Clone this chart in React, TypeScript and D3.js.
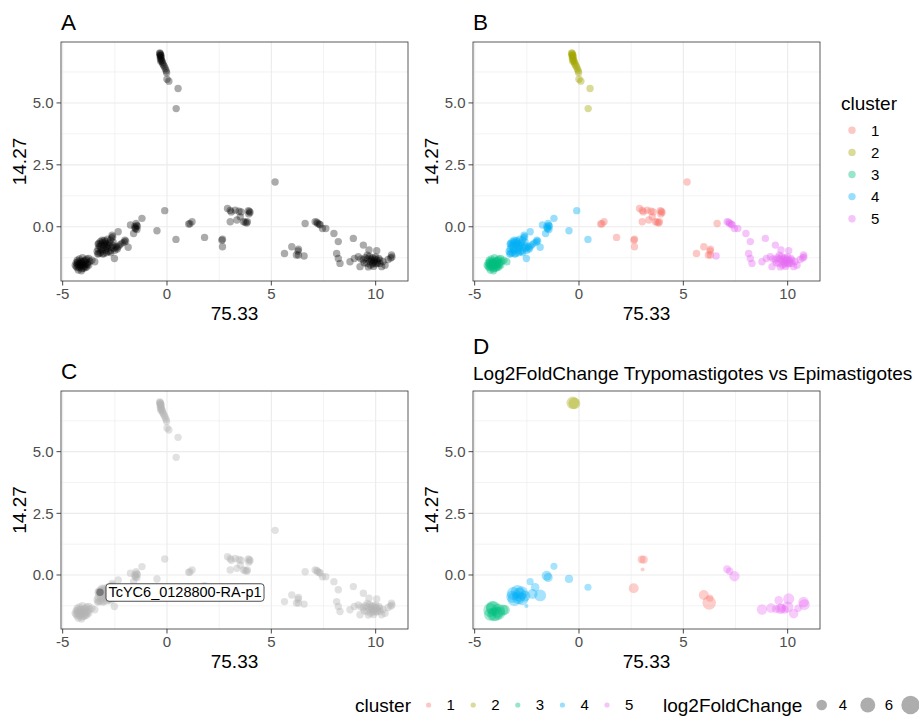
import React from 'react';
import * as d3 from 'd3';

// UMAP-like coordinates, one array per cluster: [x, y]
const cluster1: number[][] = [
  [5.18, 1.81], [2.9, 0.74], [3.03, 0.66], [3.08, 0.6], [3.27, 0.67], [3.45, 0.63], [3.56, 0.6],
  [3.9, 0.65], [3.98, 0.58], [3.92, 0.52], [3.95, 0.62], [3.03, 0.2], [3.35, 0.27], [3.51, 0.4],
  [3.67, 0.2], [3.82, 0.15], [3.75, 0.18], [3.85, 0.2], [1.04, 0.11], [1.1, 0.12], [1.2, 0.2],
  [1.8, -0.43], [2.63, -0.54], [2.66, -0.5], [2.66, -0.81], [6.62, 0.13], [5.98, -0.81],
  [5.63, -1.08], [6.3, -0.91], [6.28, -0.98], [6.3, -1.14], [6.2, -1.14],
];
const cluster2: number[][] = [
  [-0.35, 7.02], [-0.33, 6.97], [-0.31, 6.93], [-0.34, 6.9], [-0.3, 6.86], [-0.28, 6.82],
  [-0.32, 6.78], [-0.27, 6.74], [-0.25, 6.7], [-0.3, 6.68], [-0.22, 6.64], [-0.2, 6.58],
  [-0.17, 6.52], [-0.12, 6.46], [-0.08, 6.38], [-0.04, 6.3], [-0.02, 6.22], [0.0, 5.96],
  [0.09, 5.88], [0.53, 5.58], [0.44, 4.77], [-0.33, 7.0], [-0.29, 6.92],
];
const cluster3: number[][] = [
  [-4.4, -1.55], [-4.35, -1.45], [-4.3, -1.65], [-4.3, -1.35], [-4.25, -1.75], [-4.2, -1.5],
  [-4.2, -1.3], [-4.15, -1.6], [-4.1, -1.42], [-4.1, -1.78], [-4.05, -1.25], [-4.0, -1.55],
  [-4.0, -1.68], [-3.95, -1.38], [-3.9, -1.5], [-3.85, -1.62], [-3.85, -1.3], [-3.8, -1.45],
  [-3.75, -1.55], [-3.7, -1.4], [-4.25, -1.55], [-4.15, -1.48], [-4.05, -1.5], [-3.95, -1.6],
  [-4.35, -1.6], [-3.75, -1.28], [-3.46, -1.41], [-3.6, -1.35], [-4.3, -1.5], [-4.2, -1.65],
  [-4.1, -1.55], [-4.0, -1.4], [-3.9, -1.35], [-4.15, -1.38], [-4.28, -1.42], [-3.92, -1.65],
  [-4.08, -1.7], [-3.82, -1.52],
];
const cluster4: number[][] = [
  [-0.11, 0.65], [-0.48, -0.16], [0.43, -0.51], [-1.2, 0.34], [-1.75, 0.07], [-1.48, 0.13],
  [-1.44, -0.11], [-1.6, -0.27], [-1.55, 0.0], [-1.5, -0.05], [-1.42, 0.02], [-1.52, -0.08],
  [-1.46, 0.05], [-2.34, -0.2], [-2.63, -0.34], [-2.6, -0.4], [-2.02, -0.54], [-2.05, -0.62],
  [-1.98, -0.58], [-1.86, -0.83], [-2.52, -1.28], [-2.25, -0.72], [-2.15, -0.66], [-2.4, -0.85],
  [-3.3, -0.7], [-3.27, -0.67], [-3.2, -0.6], [-3.11, -0.54], [-3.0, -0.55], [-2.95, -0.6],
  [-2.85, -0.5], [-2.79, -0.74], [-2.71, -0.54], [-2.65, -0.45], [-3.27, -1.08], [-3.35, -1.0],
  [-3.3, -0.9], [-3.19, -0.81], [-3.11, -0.97], [-3.05, -0.85], [-3.03, -1.08], [-2.95, -0.95],
  [-2.87, -0.87], [-2.8, -1.0], [-2.71, -0.97], [-2.65, -0.85], [-2.55, -0.87], [-2.5, -0.95],
  [-2.45, -0.8], [-2.31, -0.78], [-3.15, -0.7], [-3.0, -0.75], [-2.9, -0.7], [-3.2, -1.05],
  [-2.9, -1.05], [-3.1, -0.62], [-3.25, -0.78], [-3.15, -0.92], [-2.98, -0.66], [-2.85, -0.78],
  [-2.75, -0.65], [-2.6, -0.75], [-2.38, -0.9], [-3.32, -1.1], [-3.08, -1.1], [-2.92, -0.82],
  [-2.7, -1.05], [-2.58, -0.62],
];
const cluster5: number[][] = [
  [7.1, 0.2], [7.18, 0.18], [7.22, 0.13], [7.3, 0.1], [7.34, 0.08], [7.45, -0.07], [7.61, -0.07],
  [8.0, -0.27], [8.21, -0.6], [8.93, -0.47], [9.41, -0.74], [9.68, -0.94], [10.05, -0.97],
  [6.57, -1.18], [8.13, -1.08], [8.21, -1.28], [8.29, -1.48], [8.77, -1.41], [8.98, -1.28],
  [9.17, -1.21], [9.25, -1.61], [9.41, -1.34], [9.5, -1.25], [9.57, -1.48], [9.62, -1.3],
  [9.7, -1.2], [9.73, -1.4], [9.8, -1.35], [9.85, -1.25], [9.89, -1.45], [9.95, -1.3],
  [10.0, -1.5], [10.05, -1.34], [10.1, -1.42], [10.15, -1.28], [10.21, -1.48], [10.29, -1.61],
  [10.35, -1.4], [10.45, -1.55], [10.6, -1.32], [10.76, -1.14], [10.78, -1.22], [10.72, -1.26],
  [9.6, -1.15], [9.75, -1.55], [9.9, -1.6], [10.2, -1.35], [9.45, -1.45], [9.3, -1.3],
  [9.65, -1.62], [9.78, -1.3], [9.92, -1.38], [10.08, -1.48], [9.85, -1.5], [10.0, -1.22],
];

// genes with a log2FoldChange (Trypomastigotes vs Epimastigotes): [x, y, cluster, log2FC]
const foldChange: number[][] = [
  [-0.3, 6.98, 2, 4.8], [-0.22, 6.96, 2, 4.5],
  [3.0, 0.63, 1, 3.1], [3.1, 0.62, 1, 3.2], [3.05, 0.22, 1, 2.3], [2.62, -0.54, 1, 3.8],
  [5.98, -0.81, 1, 3.8], [6.27, -0.94, 1, 2.9], [6.24, -1.13, 1, 5.3],
  [7.1, 0.24, 5, 3.1], [7.22, 0.15, 5, 3.0], [7.45, -0.05, 5, 3.9], [8.77, -1.4, 5, 3.9],
  [9.2, -1.34, 5, 3.6], [9.57, -1.03, 5, 3.3], [10.05, -0.97, 5, 4.2], [9.65, -1.37, 5, 4.0],
  [9.7, -1.35, 5, 3.5], [9.85, -1.4, 5, 3.3], [10.0, -1.3, 5, 4.3], [10.29, -1.57, 5, 3.6],
  [10.76, -1.1, 5, 4.0], [10.8, -1.2, 5, 4.1], [10.5, -1.35, 5, 3.0], [9.45, -1.38, 5, 3.2],
  [-1.2, 0.35, 4, 2.9], [-1.55, -0.03, 4, 3.8], [-1.48, -0.1, 4, 3.5], [-0.48, -0.16, 4, 3.2],
  [0.43, -0.5, 4, 2.9], [-2.34, -0.27, 4, 2.9], [-2.1, -0.5, 4, 3.3], [-1.86, -0.83, 4, 4.5],
  [-2.23, -0.77, 4, 3.8], [-2.52, -1.26, 4, 2.3],
  [-3.15, -0.75, 4, 5.0], [-2.95, -0.68, 4, 5.2], [-2.75, -0.72, 4, 5.0], [-3.1, -0.98, 4, 5.3],
  [-2.9, -0.92, 4, 5.0], [-2.72, -0.97, 4, 4.8], [-3.2, -0.88, 4, 4.6], [-2.85, -0.8, 4, 5.5],
  [-2.6, -0.85, 4, 4.2],
  [-4.25, -1.42, 3, 5.5], [-4.1, -1.36, 3, 5.8], [-4.0, -1.58, 3, 5.6], [-3.88, -1.45, 3, 5.5],
  [-4.08, -1.6, 3, 5.2], [-4.25, -1.6, 3, 4.8], [-3.85, -1.55, 3, 5.0], [-4.15, -1.32, 3, 5.0],
  [-3.65, -1.42, 3, 4.2], [-3.55, -1.42, 3, 3.8],
];

const clusterNames = ['1', '2', '3', '4', '5'];
const clusterColors = ['#F8766D', '#A3A500', '#00BF7D', '#00B0F6', '#E76BF3'];
const xTicks = [-5, 0, 5, 10];
const xMinor = [-2.5, 2.5, 7.5];
const yTicks = [0, 2.5, 5];
const yMinor = [-1.25, 1.25, 3.75, 6.25];
const sizeBreaks = [4, 6, 8];
const highlightGene = 'TcYC6_0128800-RA-p1';
const highlightPoint = [-3.21, -0.7];

const FONT = "'Liberation Sans', Arial, Helvetica, sans-serif";
const X_DOMAIN = [-5.08, 11.55];
const Y_DOMAIN = [-2.19, 7.46];
const R = 3.7;
const W = 919;

const clusters = [cluster1, cluster2, cluster3, cluster4, cluster5];
const allPoints = clusters.flatMap((pts, i) => pts.map(([x, y]) => ({ x, y, c: i })));

const area = d3.scaleLinear().domain([2, 8]).range([0, 84]);
const sizeR = (v: number) => Math.sqrt(Math.max(area(v), 1));

type Box = { l: number; t: number; r: number; b: number };

const Panel = ({ box, tag, subtitle, children }: {
  box: Box; tag: string; subtitle?: string;
  children: (x: d3.ScaleLinear<number, number>, y: d3.ScaleLinear<number, number>) => React.ReactNode;
}) => {
  const x = d3.scaleLinear().domain(X_DOMAIN).range([box.l, box.r]);
  const y = d3.scaleLinear().domain(Y_DOMAIN).range([box.b, box.t]);
  const midX = (box.l + box.r) / 2;
  const midY = (box.t + box.b) / 2;
  return (
    <g fontFamily={FONT}>
      <text x={box.l} y={box.t - (subtitle ? 37 : 12)} fontSize={22.5}>{tag}</text>
      {subtitle && <text x={box.l} y={box.t - 11} fontSize={19}>{subtitle}</text>}
      <rect x={box.l} y={box.t} width={box.r - box.l} height={box.b - box.t} fill="#fff" />
      {xMinor.map(v => (
        <line key={'xm' + v} x1={x(v)} x2={x(v)} y1={box.t} y2={box.b} stroke="#EBEBEB" strokeWidth={0.6} />
      ))}
      {yMinor.map(v => (
        <line key={'ym' + v} y1={y(v)} y2={y(v)} x1={box.l} x2={box.r} stroke="#EBEBEB" strokeWidth={0.6} />
      ))}
      {xTicks.map(v => (
        <line key={'xg' + v} x1={x(v)} x2={x(v)} y1={box.t} y2={box.b} stroke="#EBEBEB" strokeWidth={1.1} />
      ))}
      {yTicks.map(v => (
        <line key={'yg' + v} y1={y(v)} y2={y(v)} x1={box.l} x2={box.r} stroke="#EBEBEB" strokeWidth={1.1} />
      ))}
      {children(x, y)}
      <rect x={box.l} y={box.t} width={box.r - box.l} height={box.b - box.t} fill="none" stroke="#333" strokeWidth={0.8} />
      {xTicks.map(v => (
        <g key={'xt' + v}>
          <line x1={x(v)} x2={x(v)} y1={box.b} y2={box.b + 4.5} stroke="#333" strokeWidth={0.9} />
          <text x={x(v)} y={box.b + 17.5} fontSize={15} fill="#4D4D4D" textAnchor="middle">{v}</text>
        </g>
      ))}
      {yTicks.map(v => (
        <g key={'yt' + v}>
          <line x1={box.l - 4.5} x2={box.l} y1={y(v)} y2={y(v)} stroke="#333" strokeWidth={0.9} />
          <text x={box.l - 7.5} y={y(v) + 5.3} fontSize={15} fill="#4D4D4D" textAnchor="end">{d3.format('.1f')(v)}</text>
        </g>
      ))}
      <text x={midX} y={box.b + 38.5} fontSize={19} textAnchor="middle">75.33</text>
      <text transform={`translate(${box.l - 35},${midY}) rotate(-90)`} fontSize={19} textAnchor="middle">14.27</text>
    </g>
  );
};

const A: Box = { l: 61, t: 42, r: 408, b: 281 };
const B: Box = { l: 473, t: 42, r: 820, b: 281 };
const C: Box = { l: 61, t: 391, r: 408, b: 629 };
const D: Box = { l: 473, t: 391, r: 820, b: 629 };

export default function App() {
  const labelW = 158;
  const sizeKeyX = [821.7, 867.8, 910.5];
  return (
    <div style={{ position: 'absolute', left: 0, top: 0 }}>
      <svg width={W} height={716} style={{ display: 'block', background: '#fff' }}>
        <Panel box={A} tag="A">
          {(x, y) => allPoints.map((p, i) => (
            <circle key={i} cx={x(p.x)} cy={y(p.y)} r={R} fill="#000" fillOpacity={0.33} />
          ))}
        </Panel>
        <Panel box={B} tag="B">
          {(x, y) => allPoints.map((p, i) => (
            <circle key={i} cx={x(p.x)} cy={y(p.y)} r={R} fill={clusterColors[p.c]} fillOpacity={0.4} />
          ))}
        </Panel>
        <Panel box={C} tag="C">
          {(x, y) => (
            <g>
              {allPoints.map((p, i) => (
                <circle key={i} cx={x(p.x)} cy={y(p.y)} r={R} fill="#b3b3b3" fillOpacity={0.4} />
              ))}
              <circle cx={x(highlightPoint[0])} cy={y(highlightPoint[1])} r={R} fill="#666" fillOpacity={0.75} />
              <rect x={x(highlightPoint[0]) + 6} y={y(highlightPoint[1]) - 8.5} width={labelW} height={17.5}
                rx={3} fill="#fff" stroke="#222" strokeWidth={0.8} />
              <text x={x(highlightPoint[0]) + 6 + labelW / 2} y={y(highlightPoint[1]) + 5} fontSize={14.5}
                textAnchor="middle">{highlightGene}</text>
            </g>
          )}
        </Panel>
        <Panel box={D} tag="D" subtitle="Log2FoldChange Trypomastigotes vs Epimastigotes">
          {(x, y) => foldChange.map((p, i) => (
            <circle key={i} cx={x(p[0])} cy={y(p[1])} r={sizeR(p[3])} fill={clusterColors[p[2] - 1]} fillOpacity={0.35} />
          ))}
        </Panel>

        {/* right legend for B */}
        <g fontFamily={FONT}>
          <text x={841} y={110} fontSize={19}>cluster</text>
          {clusterNames.map((n, i) => (
            <g key={n}>
              <circle cx={852} cy={130.3 + i * 22.1} r={R} fill={clusterColors[i]} fillOpacity={0.4} />
              <text x={871} y={130.3 + i * 22.1 + 5.3} fontSize={15}>{n}</text>
            </g>
          ))}
        </g>

        {/* bottom legend */}
        <g fontFamily={FONT}>
          <text x={355} y={712} fontSize={19}>cluster</text>
          {clusterNames.map((n, i) => {
            const cx = 428.6 + i * 44.6;
            return (
              <g key={n}>
                <circle cx={cx} cy={705} r={2.6} fill={clusterColors[i]} fillOpacity={0.4} />
                <text x={cx + 18} y={710.3} fontSize={15}>{n}</text>
              </g>
            );
          })}
          <text x={663} y={712} fontSize={19}>log2FoldChange</text>
          {sizeBreaks.map((v, i) => (
            <g key={v}>
              <circle cx={sizeKeyX[i]} cy={705} r={sizeR(v)} fill="#000" fillOpacity={0.32} />
              {sizeKeyX[i] + 25 < W && <text x={sizeKeyX[i] + 17} y={710.3} fontSize={15}>{v}</text>}
            </g>
          ))}
        </g>
      </svg>
    </div>
  );
}
